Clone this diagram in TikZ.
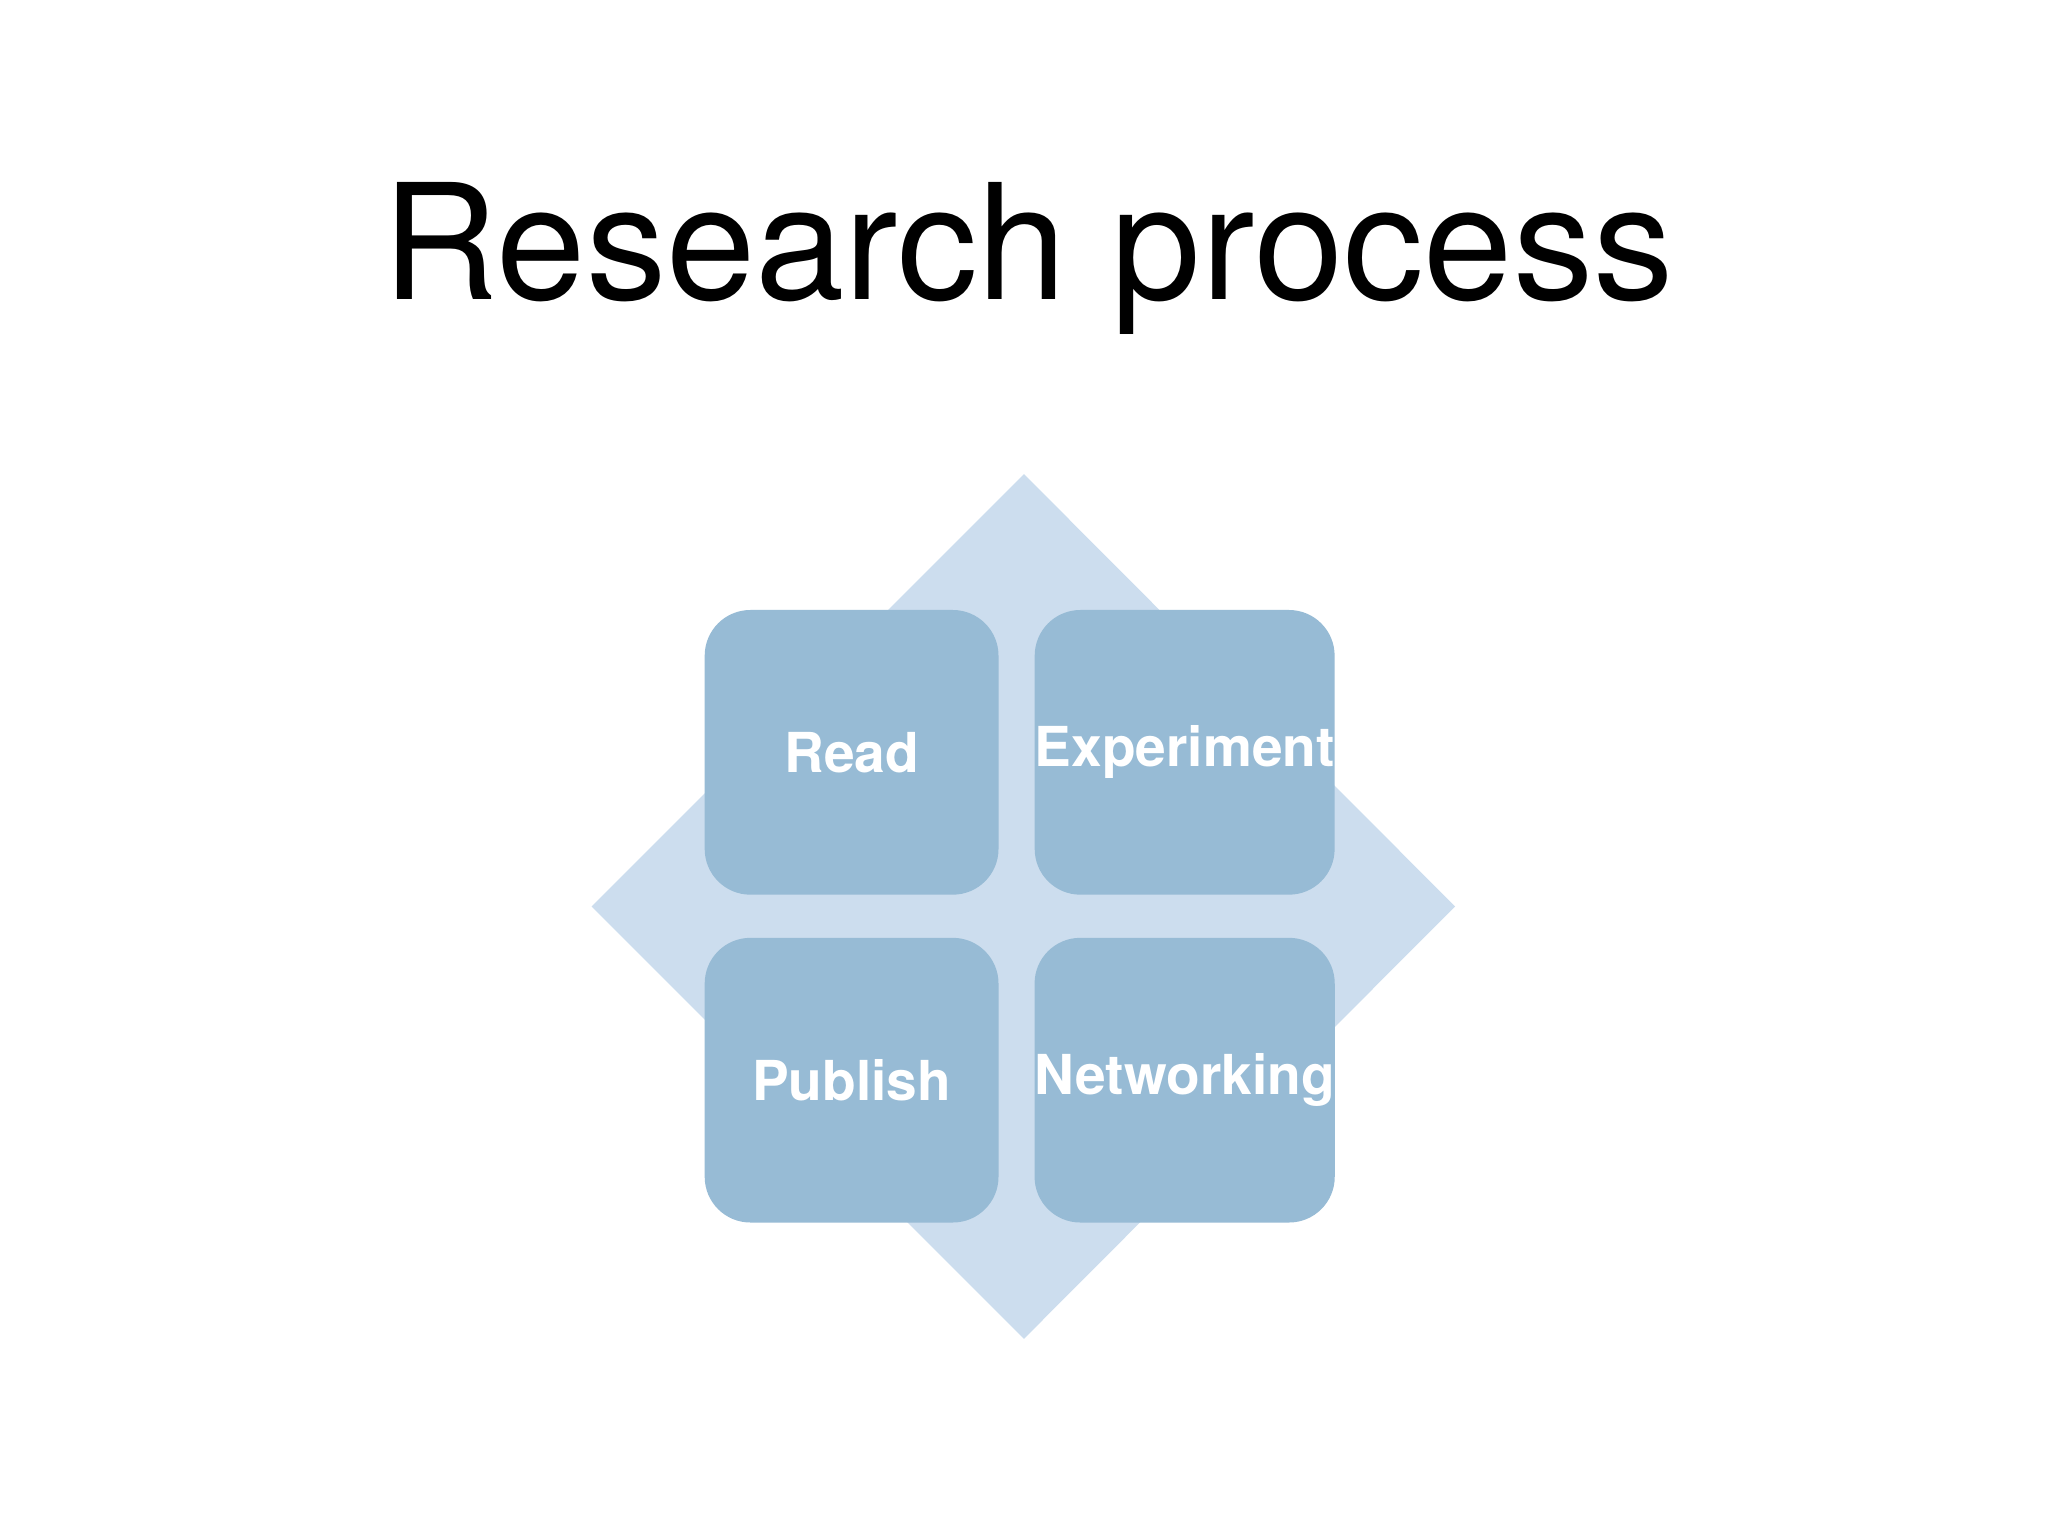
\documentclass[tikz,border=0pt]{standalone}
\usepackage{fontspec}
\setmainfont{TeX Gyre Heros}
\begin{document}
\begin{tikzpicture}[x=0.02cm,y=-0.02cm,
  cell/.style={fill=cellblue,rounded corners=0.7cm,minimum width=4.5cm,minimum height=4.36cm,inner sep=0pt,text=white,font=\bfseries\fontsize{24}{28}\selectfont},
  ]
\definecolor{cellblue}{HTML}{97BBD5}
\definecolor{diam}{HTML}{CCDDEE}
\useasboundingbox[fill=white] (0,0) rectangle (1568,1176);
\fill[diam] (784,363) -- (1114,694) -- (784,1025) -- (453,694) -- cycle;
\node[font=\fontsize{70}{80}\selectfont,anchor=base] (title) at (787,229) {Research process};
\node[cell] (read) at (652,576) {Read};
\node[cell] (exp) at (907,576) {Experiment};
\node[cell] (pub) at (652,827) {Publish};
\node[cell] (net) at (907,827) {Networking};
\end{tikzpicture}
\end{document}
